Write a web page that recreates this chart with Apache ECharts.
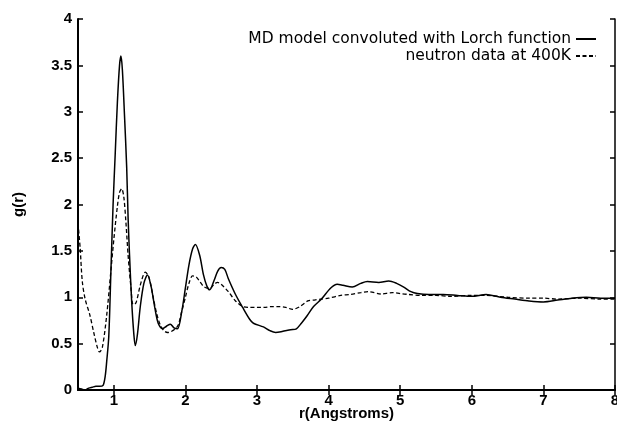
<!DOCTYPE html>
<html>
<head>
<meta charset="utf-8">
<script src="https://cdn.jsdelivr.net/npm/echarts@6/dist/echarts.min.js"></script>
<style>
  html, body { margin: 0; padding: 0; background: #fff; }
  #chart { width: 617px; height: 422px; }
</style>
</head>
<body>
<div id="chart"></div>
<script>
// MD model vs neutron g(r)
const xTicks = [1, 2, 3, 4, 5, 6, 7, 8];
const yTicks = [0, 0.5, 1, 1.5, 2, 2.5, 3, 3.5, 4];

const mdModel = [
  [0.5, 0.02], [0.55, 0.01], [0.6, 0.0], [0.65, 0.02], [0.7, 0.03], [0.75, 0.04],
  [0.8, 0.04], [0.85, 0.05], [0.88, 0.15], [0.9, 0.3], [0.93, 0.58], [0.96, 1.29],
  [0.99, 2.0], [1.02, 2.55], [1.05, 3.1], [1.08, 3.5], [1.1, 3.6], [1.12, 3.45],
  [1.15, 2.95], [1.18, 2.4], [1.2, 1.85], [1.22, 1.45], [1.25, 0.95], [1.28, 0.6],
  [1.3, 0.48], [1.33, 0.6], [1.37, 0.9], [1.42, 1.15], [1.47, 1.24], [1.52, 1.12],
  [1.57, 0.9], [1.62, 0.72], [1.68, 0.66], [1.74, 0.69], [1.79, 0.71], [1.84, 0.67],
  [1.89, 0.66], [1.95, 0.85], [2.0, 1.1], [2.05, 1.35], [2.1, 1.52], [2.14, 1.57],
  [2.2, 1.45], [2.25, 1.25], [2.3, 1.12], [2.34, 1.08], [2.4, 1.18], [2.45, 1.28],
  [2.5, 1.32], [2.55, 1.3], [2.6, 1.2], [2.7, 1.03], [2.8, 0.89], [2.9, 0.76],
  [2.95, 0.72], [3.09, 0.68], [3.18, 0.64], [3.26, 0.62], [3.35, 0.63], [3.47, 0.65],
  [3.55, 0.66], [3.62, 0.72], [3.7, 0.8], [3.79, 0.9], [3.9, 0.98], [4.03, 1.1],
  [4.12, 1.14], [4.2, 1.13], [4.33, 1.11], [4.45, 1.15], [4.54, 1.17], [4.7, 1.16],
  [4.84, 1.175], [4.95, 1.15], [5.05, 1.11], [5.15, 1.06], [5.24, 1.04], [5.4, 1.03],
  [5.6, 1.03], [5.8, 1.02], [6.0, 1.01], [6.2, 1.03], [6.4, 1.0], [6.6, 0.98],
  [6.8, 0.96], [7.0, 0.95], [7.2, 0.97], [7.4, 0.99], [7.6, 1.0], [7.8, 0.99], [8.0, 0.99]
];

const neutron400K = [
  [0.5, 1.8], [0.53, 1.53], [0.56, 1.17], [0.6, 0.98], [0.665, 0.81], [0.72, 0.62],
  [0.77, 0.46], [0.8, 0.41], [0.84, 0.46], [0.9, 0.8], [0.96, 1.29], [1.0, 1.62],
  [1.05, 1.98], [1.08, 2.13], [1.11, 2.17], [1.14, 2.08], [1.17, 1.8], [1.2, 1.45],
  [1.24, 1.1], [1.27, 0.92], [1.31, 0.94], [1.37, 1.13], [1.44, 1.27], [1.49, 1.22],
  [1.55, 1.0], [1.6, 0.82], [1.65, 0.7], [1.7, 0.64], [1.75, 0.62], [1.8, 0.63],
  [1.86, 0.66], [1.9, 0.7], [1.95, 0.85], [2.0, 1.0], [2.05, 1.15], [2.1, 1.23],
  [2.15, 1.22], [2.2, 1.17], [2.25, 1.12], [2.3, 1.1], [2.35, 1.1], [2.4, 1.14],
  [2.45, 1.16], [2.5, 1.14], [2.6, 1.06], [2.7, 0.96], [2.8, 0.9], [2.9, 0.89],
  [3.0, 0.89], [3.1, 0.89], [3.2, 0.9], [3.3, 0.9], [3.4, 0.89], [3.5, 0.87],
  [3.6, 0.9], [3.71, 0.96], [3.8, 0.97], [3.89, 0.98], [4.0, 0.99], [4.17, 1.02],
  [4.3, 1.03], [4.45, 1.05], [4.56, 1.06], [4.73, 1.035], [4.89, 1.05], [5.0, 1.04],
  [5.12, 1.03], [5.3, 1.02], [5.5, 1.02], [5.7, 1.01], [6.0, 1.02], [6.2, 1.02],
  [6.5, 1.0], [6.8, 0.99], [7.0, 0.99], [7.2, 0.98], [7.5, 0.99], [7.8, 0.98], [8.0, 0.98]
];

const myChart = echarts.init(document.getElementById('chart'));

const labelFont = {
  fontFamily: 'Liberation Sans, Arial, sans-serif',
  fontSize: 15,
  fontWeight: 'bold',
  color: '#000'
};

const tickStyle = { show: true, inside: true, length: 5, lineStyle: { color: '#000', width: 1.5 } };

const option = {
  animation: false,
  backgroundColor: '#fff',
  grid: { left: 78, right: 2, top: 19, bottom: 32, outerBoundsMode: 'none' },
  legend: {
    orient: 'vertical',
    right: 15,
    top: 26,
    align: 'right',
    itemWidth: 20,
    itemHeight: 10,
    itemGap: 1,
    itemStyle: { opacity: 0 },
    textStyle: {
      fontFamily: 'DejaVu Sans, sans-serif',
      fontSize: 15.5,
      color: '#000',
      padding: [0, 0, 0, 0]
    },
    data: ['MD model convoluted with Lorch function', 'neutron data at 400K']
  },
  xAxis: [
    {
      type: 'value',
      min: 0.5,
      max: 8,
      name: 'r(Angstroms)',
      nameLocation: 'middle',
      nameGap: 16,
      nameMoveOverlap: false,
      nameTextStyle: labelFont,
      axisLine: { show: true, lineStyle: { color: '#000', width: 2 } },
      axisTick: Object.assign({ customValues: xTicks }, tickStyle),
      axisLabel: Object.assign({ customValues: xTicks, margin: 3 }, labelFont),
      splitLine: { show: false }
    },
    {
      type: 'value',
      position: 'top',
      min: 0.5,
      max: 8,
      axisLine: { show: true, lineStyle: { color: '#000', width: 1.5 } },
      axisTick: Object.assign({ customValues: xTicks }, tickStyle),
      axisLabel: { show: false },
      splitLine: { show: false }
    }
  ],
  yAxis: [
    {
      type: 'value',
      min: 0,
      max: 4,
      interval: 0.5,
      name: 'g(r)',
      nameLocation: 'middle',
      nameGap: 52,
      nameRotate: 90,
      nameMoveOverlap: false,
      nameTextStyle: labelFont,
      axisLine: { show: true, lineStyle: { color: '#000', width: 2 } },
      axisTick: tickStyle,
      axisLabel: Object.assign({ margin: 6, formatter: v => String(v) }, labelFont),
      splitLine: { show: false }
    },
    {
      type: 'value',
      position: 'right',
      min: 0,
      max: 4,
      interval: 0.5,
      axisLine: { show: true, lineStyle: { color: '#000', width: 1.5 } },
      axisTick: tickStyle,
      axisLabel: { show: false },
      splitLine: { show: false }
    }
  ],
  series: [
    {
      name: 'MD model convoluted with Lorch function',
      type: 'line',
      data: mdModel,
      smooth: 0.3,
      symbol: 'none',
      lineStyle: { color: '#000', width: 1.5, type: 'solid' },
      itemStyle: { color: '#000' }
    },
    {
      name: 'neutron data at 400K',
      type: 'line',
      data: neutron400K,
      smooth: 0.3,
      symbol: 'none',
      lineStyle: { color: '#000', width: 1.3, type: [4, 2.5] },
      itemStyle: { color: '#000' }
    }
  ]
};
myChart.setOption(option);
</script>
</body>
</html>
